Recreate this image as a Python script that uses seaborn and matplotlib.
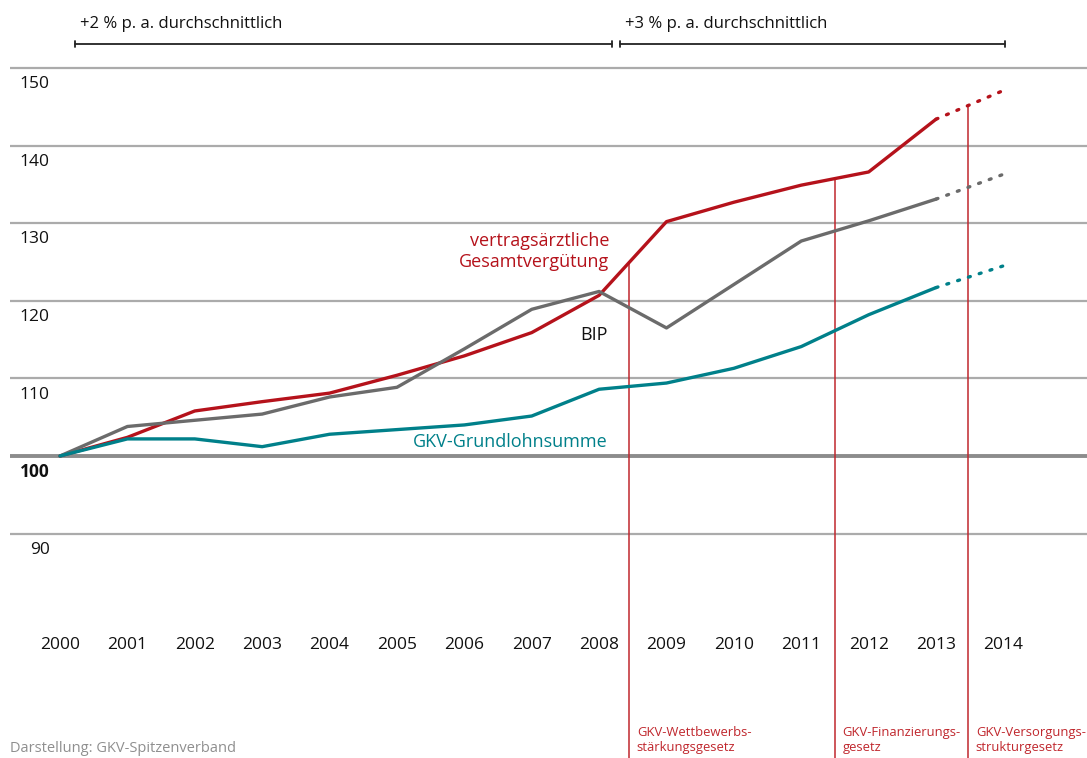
import numpy as np
import pandas as pd
import matplotlib
matplotlib.use('Agg')
import matplotlib.pyplot as plt
import seaborn as sns

# Data (index 2000 = 100)
years = list(range(2000, 2015))
verguetung = [100, 102.4, 105.8, 107.0, 108.1, 110.4, 112.9, 115.9, 120.7,
              130.2, 132.7, 134.9, 136.6, 143.4, 147.1]
bip = [100, 103.8, 104.6, 105.4, 107.6, 108.85, 113.8, 118.9, 121.2,
       116.5, 122.1, 127.7, 130.3, 133.1, 136.3]
grundlohn = [100, 102.2, 102.2, 101.2, 102.8, 103.4, 104.0, 105.15, 108.6,
             109.4, 111.3, 114.1, 118.2, 121.7, 124.5]
last_actual = 2013  # 2014 is a forecast (dotted)

law_years = [2008.45, 2011.5, 2013.48]
law_labels = ['GKV-Wettbewerbs-\nstärkungsgesetz',
              'GKV-Finanzierungs-\ngesetz',
              'GKV-Versorgungs-\nstrukturgesetz']
periods = [(2000.22, 2008.19, '+2 % p. a. durchschnittlich'),
           (2008.31, 2014.02, '+3 % p. a. durchschnittlich')]
y_ticks = [90, 100, 110, 120, 130, 140, 150]

RED = '#b5121b'
GREY = '#6b6b6b'
TEAL = '#00808a'

df = pd.DataFrame({'Jahr': years,
                   'vertragsärztliche Gesamtvergütung': verguetung,
                   'BIP': bip,
                   'GKV-Grundlohnsumme': grundlohn})
long = df.melt(id_vars='Jahr', var_name='Reihe', value_name='Index')
palette = {'vertragsärztliche Gesamtvergütung': RED, 'BIP': GREY,
           'GKV-Grundlohnsumme': TEAL}

sns.set_style('white')
plt.rcParams['font.family'] = ['Open Sans', 'DejaVu Sans']

fig = plt.figure(figsize=(10.87, 7.58), dpi=100)
ax = fig.add_axes([10 / 1087, 0, 1077 / 1087, 1])
ax.set_xlim(1999.258, 2015.24)
ax.set_ylim(61.08, 158.76)

# grid lines
for t in y_ticks:
    if t == 100:
        ax.axhline(t, color='#8c8c8c', lw=2.8, zorder=1)
    else:
        ax.axhline(t, color='#ababab', lw=1.6, zorder=1)
    ax.text(1999.85, t - 2.1, str(t), ha='right', va='center', fontsize=12.5,
            fontweight='bold' if t == 100 else 'normal', color='#111111')

# series: solid up to last_actual, dotted forecast
solid = long[long['Jahr'] <= last_actual]
fc = long[long['Jahr'] >= last_actual]
sns.lineplot(data=solid, x='Jahr', y='Index', hue='Reihe', palette=palette,
             lw=2.4, legend=False, ax=ax, zorder=3)
sns.lineplot(data=fc, x='Jahr', y='Index', hue='Reihe', palette=palette,
             lw=2.4, linestyle=(0, (0.6, 2.8)), dash_capstyle='round',
             legend=False, ax=ax, zorder=3)
ax.axis('off')

# law markers
for ly, lab in zip(law_years, law_labels):
    top = np.interp(ly, years, verguetung)
    ax.plot([ly, ly], [top, 61.08], color='#c0272d', lw=1.1, zorder=2,
            clip_on=False)
    ax.text(ly + 0.11, 65.2, lab, ha='left', va='top', fontsize=9.4,
            color='#c0272d', linespacing=1.2)

# year labels
for y in years:
    ax.text(y, 75.64, str(y), ha='center', va='center', fontsize=12.5,
            color='#111111')

# series labels
ax.text(2008.15, 126.35, 'vertragsärztliche\nGesamtvergütung', ha='right',
        va='center', fontsize=13, color=RED, linespacing=1.15)
ax.text(2008.13, 115.6, 'BIP', ha='right', va='center', fontsize=13,
        color='#111111')
ax.text(2008.13, 101.8, 'GKV-Grundlohnsumme', ha='right', va='center',
        fontsize=13, color=TEAL)

# period brackets
for x0, x1, lab in periods:
    ax.plot([x0, x1], [153.1, 153.1], color='#222222', lw=1.3)
    for xe in (x0, x1):
        ax.plot([xe, xe], [152.7, 153.5], color='#222222', lw=1.3)
    ax.text(x0 + 0.08, 155.7, lab, ha='left', va='center', fontsize=12,
            color='#111111')

fig.text(10 / 1087, 1 - 749 / 758, 'Darstellung: GKV-Spitzenverband',
         ha='left', va='center', fontsize=10.5, color='#8f8f8f')

fig.savefig('out.png', dpi=100)
